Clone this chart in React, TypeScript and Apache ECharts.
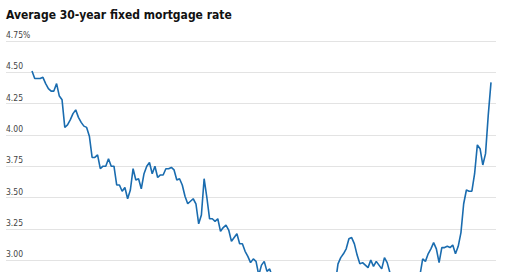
import React, { useEffect, useRef } from "react";
import * as echarts from "echarts";

// Weekly average 30-year fixed mortgage rate (%), first week of Jan 2019 onward
const rates2019 = [
  4.51, 4.45, 4.45, 4.45, 4.46, 4.41, 4.37, 4.35, 4.35, 4.41, 4.31, 4.28, 4.06,
  4.08, 4.12, 4.17, 4.2, 4.14, 4.1, 4.07, 4.06, 3.99, 3.82, 3.82, 3.84, 3.73,
  3.75, 3.75, 3.81, 3.75, 3.75, 3.6, 3.6, 3.55, 3.58, 3.49, 3.56, 3.73, 3.64,
  3.65, 3.57, 3.69, 3.75, 3.78, 3.69, 3.75, 3.66, 3.68, 3.68, 3.73, 3.73, 3.74,
];
const rates2020 = [
  3.72, 3.64, 3.65, 3.6, 3.51, 3.45, 3.47, 3.49, 3.45, 3.29, 3.36, 3.65, 3.5,
  3.33, 3.33, 3.31, 3.33, 3.23, 3.26, 3.28, 3.24, 3.15, 3.18, 3.21, 3.13, 3.13,
  3.07, 3.03, 2.98, 3.01, 2.99, 2.88, 2.96, 2.99, 2.91, 2.93, 2.86, 2.87, 2.9,
  2.88, 2.87, 2.81, 2.8, 2.81, 2.78, 2.84, 2.72, 2.72, 2.71, 2.71, 2.67, 2.66,
  2.67,
];
const rates2021 = [
  2.65, 2.79, 2.77, 2.73, 2.73, 2.73, 2.81, 2.97, 3.02, 3.05, 3.09, 3.17, 3.18,
  3.13, 3.04, 2.97, 2.98, 2.96, 2.94, 3.0, 2.95, 2.99, 2.96, 2.93, 3.02, 2.98,
  2.9, 2.88, 2.78, 2.8, 2.77, 2.87, 2.86, 2.87, 2.87, 2.88, 2.86, 2.88, 3.01,
  2.99, 3.05, 3.09, 3.14, 3.09, 2.98, 3.1, 3.1, 3.11, 3.1, 3.12, 3.05, 3.11,
];
const rates2022 = [3.22, 3.45, 3.56, 3.55, 3.55, 3.69, 3.92, 3.89, 3.76, 3.85, 4.16, 4.42];

const yTicks = [2.25, 2.5, 2.75, 3.0, 3.25, 3.5, 3.75, 4.0, 4.25, 4.5, 4.75];
const labelledFrom = 3.0; // lower tick labels fall below the visible frame
const titleText = "Average 30-year fixed mortgage rate";

const rates = [...rates2019, ...rates2020, ...rates2021, ...rates2022];
const weeks = rates.map((_, i) => `W${i + 1}`);

const NARROW = "'Liberation Sans Narrow', 'Arial Narrow', 'DejaVu Sans Condensed', sans-serif";

export default function App() {
  const ref = useRef<HTMLDivElement>(null);
  useEffect(() => {
    if (!ref.current) return;
    const chart = echarts.init(ref.current, undefined, { renderer: "svg" });
    const yMin = yTicks[0];
    const yMax = yTicks[yTicks.length - 1];
    chart.setOption({
      animation: false,
      title: {
        text: titleText,
        left: 6,
        top: 9,
        padding: 0,
        textStyle: { fontFamily: NARROW, fontSize: 12, fontWeight: "bold", color: "#111" },
      },
      grid: [
        { left: 6, right: 24, top: 41, bottom: 6 },
        { left: 32, right: 29, top: 41, bottom: 6 },
      ],
      xAxis: [
        { type: "category", gridIndex: 0, data: weeks, show: false, boundaryGap: false },
        { type: "category", gridIndex: 1, data: weeks, show: false, boundaryGap: false },
      ],
      yAxis: [
        {
          type: "value",
          gridIndex: 0,
          min: yMin,
          max: yMax,
          interval: 0.25,
          axisLine: { show: false },
          axisTick: { show: false },
          splitLine: { show: true, lineStyle: { color: "#e3e3e3", width: 1 } },
          axisLabel: {
            inside: true,
            margin: 0,
            verticalAlign: "bottom",
            padding: [0, 0, 1.5, 0],
            fontFamily: NARROW,
            fontSize: 8.5,
            color: "#444",
            formatter: (v: number) =>
              v < labelledFrom - 1e-9 ? "" : v === yMax ? v.toFixed(2) + "%" : v.toFixed(2),
          },
        },
        {
          type: "value",
          gridIndex: 1,
          min: yMin,
          max: yMax,
          interval: 0.25,
          show: false,
          splitLine: { show: false },
        },
      ],
      series: [
        {
          type: "line",
          xAxisIndex: 1,
          yAxisIndex: 1,
          data: rates,
          showSymbol: false,
          symbol: "none",
          lineStyle: { color: "#1a6caf", width: 1.6 },
        },
      ],
    });
    return () => chart.dispose();
  }, []);
  return (
    <div
      style={{
        position: "absolute",
        left: 0,
        top: 0,
        width: 520,
        height: 272,
        overflow: "hidden",
        background: "#fff",
      }}
    >
      <div ref={ref} style={{ width: 520, height: 360 }} />
    </div>
  );
}
